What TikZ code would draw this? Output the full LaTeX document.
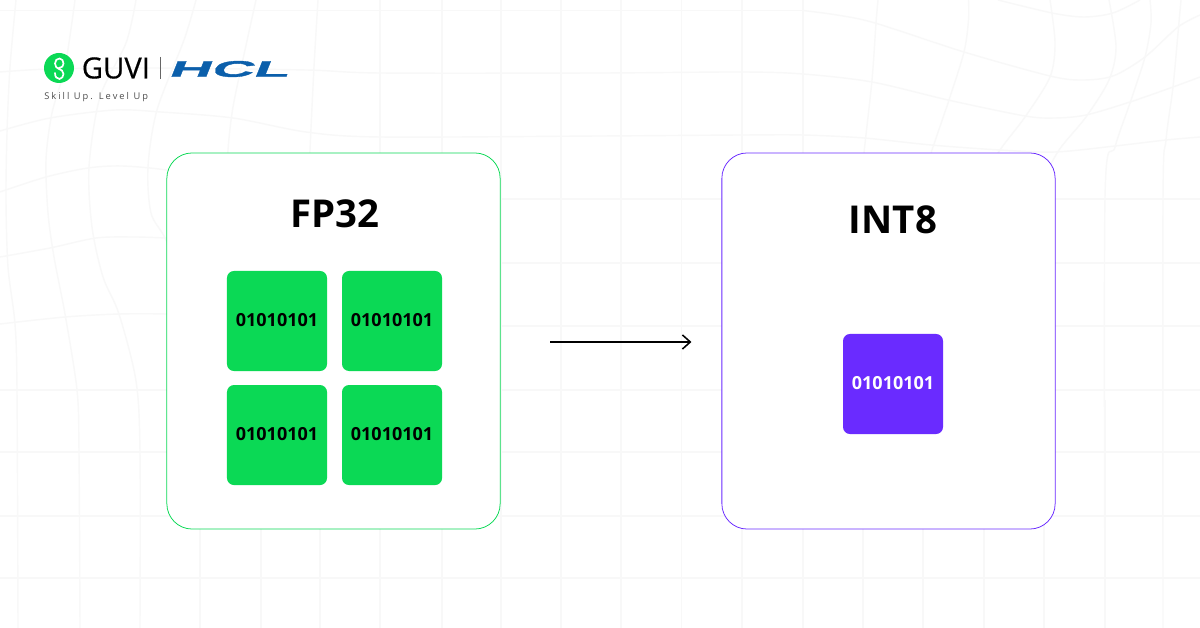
\documentclass[tikz,border=0pt]{standalone}
\usepackage{fontspec}
\setmainfont{Open Sans}
\newfontfamily\hclfont[FakeSlant=0.4,FakeStretch=2.6,FakeBold=1.5]{Liberation Sans Bold}
\usepackage{xcolor}
\usetikzlibrary{arrows.meta,positioning}
\definecolor{guvigreen}{HTML}{0BD955}
\definecolor{quantviolet}{HTML}{6A2BFF}
\definecolor{hclblue}{HTML}{0B5FAB}
\definecolor{gridgray}{HTML}{F8F8F8}
\newcommand{\bitword}{\raisebox{1pt}{01010101}}
\tikzset{
	card/.style={draw,fill=white,rounded corners=18pt,line width=.55pt,minimum width=8.33cm,minimum height=9.4cm},
	bits/.style={rounded corners=5pt,minimum width=2.5cm,minimum height=2.5cm,inner sep=0pt,font=\fontsize{12.8}{14}\selectfont\bfseries},
	title/.style={inner sep=0pt,font=\fontsize{27.3}{30}\selectfont\bfseries},
	grid line/.style={gridgray,line width=1pt}
}

\begin{document}
\begin{tikzpicture}[x=.025cm,y=-.025cm,node distance=2.875cm,>={Straight Barb[length=5.6pt,width=10pt]}]
	\useasboundingbox (0,0) rectangle (1200,628);
	\fill[white] (0,0) rectangle (1200,628);
	
	% straight part of the background
	\foreach \gy in {390,452,516,578}
		\draw[grid line] (0,\gy) -- (1200,\gy);
	\foreach \gy in {199,263,326}
		\draw[grid line] (501,\gy) -- (1200,\gy);
	\draw[grid line] (0,10.5) -- (803,10.5);
	\foreach \gx in {380,442,501,561,621,681.5,742,803}
		\draw[grid line] (\gx,0) -- (\gx,628);
	\foreach \gx in {200,261,320,863,923,984,1044,1105}
		\draw[grid line] (\gx,400) -- (\gx,628);
	
	% wavy part of the background
	\draw[grid line] plot[smooth] coordinates {(0,72) (50,69) (150,68) (306,70) (380,73) (600,73) (742,72) (803,74) (872,82) (948,100) (1025,116) (1055,118) (1086,115) (1130,102) (1173,87) (1200,77)};
	\draw[grid line] plot[smooth] coordinates {(0,131) (50,118) (115,110) (161,112) (233,118) (306,132) (380,137) (600,136) (742,135) (803,135) (864,138) (931,145) (1000,150) (1055,152) (1115,146) (1166,140) (1200,137)};
	\draw[grid line] plot[smooth] coordinates {(0,192) (46,177) (88,168) (122,166) (166,170) (210,180)};
	\draw[grid line] plot[smooth] coordinates {(0,257) (50,248) (96,238) (134,237) (166,238) (210,240)};
	\draw[grid line] plot[smooth] coordinates {(0,324) (65,317) (119,314) (166,314) (210,316)};
	\draw[grid line] plot[smooth] coordinates {(803,10.5) (837,15) (875,23) (964,52) (1050,76) (1082,80) (1113,76) (1145,57) (1178,27) (1200,15)};
	\draw[grid line] plot[smooth] coordinates {(998,0) (1052,13) (1084,17) (1113,13) (1140,0)};
	
	\draw[grid line] plot[smooth] coordinates {(16,0) (10,67) (7,133) (6,200) (8,267) (15,324) (17,390) (18,628)};
	\draw[grid line] plot[smooth] coordinates {(75,0) (65,67) (52,113) (46,160) (48,213) (54,257) (65,314) (77,390) (79,452) (80,628)};
	\draw[grid line] plot[smooth] coordinates {(136,0) (126,43) (100,97) (89,167) (92,227) (103,277) (119,314) (136,381) (140,452) (140,628)};
	\draw[grid line] plot[smooth] coordinates {(196,0) (184,40) (157,110) (148,167) (151,213) (166,240) (190,300)};
	\draw[grid line] plot[smooth] coordinates {(256,0) (245,50) (233,107) (228,150) (226,200)};
	\draw[grid line] plot[smooth] coordinates {(318,0) (314,67) (310,150) (308,200)};
	\draw[grid line] plot[smooth] coordinates {(878,0) (876,23) (872,80) (864,153) (860,200)};
	\draw[grid line] plot[smooth] coordinates {(968.5,0) (968.5,20) (964,52) (949,100) (931,153) (920,190)};
	\draw[grid line] plot[smooth] coordinates {(1050,0) (1055,43) (1050,77) (1025,117) (1000,150) (980,185)};
	\draw[grid line] plot[smooth] coordinates {(1109,0) (1116,47) (1109,80) (1086,117) (1059,150) (1040,185)};
	\draw[grid line] plot[smooth] coordinates {(1150,0) (1151,23) (1145,57) (1130,103) (1115,147) (1105,197) (1105,628)};
	\draw[grid line] plot[smooth] coordinates {(1181,0) (1178,33) (1173,87) (1166,140) (1163,200) (1163,628)};
	
	% logo
	\fill[guvigreen] (59,68) circle (15);
	\draw[white,line width=1.2pt,line cap=round] (55,73) ..controls (55,77) and (57,79) .. (59.5,79) ..controls (62,79) and (63.5,76) .. (63.5,74) ..controls (63.5,71) and (61,69.5) .. (59,69) ..controls (57,68.5) and (55,66.5) .. (55,63.5) ..controls (55,60.5) and (57,58.5) .. (59.5,58.5) ..controls (62,58.5) and (63.5,61) .. (63.5,63.5) ..controls (63.5,66) and (62,68) .. (59,68);
	\node[inner sep=0pt,anchor=west,font=\fontsize{20.8}{22}\selectfont\addfontfeature{FakeBold=.4}] (guvi) at (81.5,68) {GUVI};
	\coordinate (sepT) at (160,57);
	\coordinate (sepB) at (160,79);
	\draw[black!60,line width=.5pt] (sepT) -- (sepB);
	\node[inner sep=0pt,anchor=west,text=hclblue,font=\fontsize{16}{18}\selectfont\hclfont] (hcl) at (167.5,69) {HCL};
	\node[inner sep=0pt,anchor=west,text=black!70,font=\fontsize{6.6}{8}\selectfont\addfontfeature{LetterSpace=22}] (tag) at (44,97) {Skill Up. Level Up};
	
	% the two cards
	\node[card,draw=guvigreen] (fpbox) at (333.5,341) {};
	\node[card,draw=quantviolet] (intbox) at (888.5,341) {};
	
	\node[title] (fptitle) at (334.5,213.5) {FP32};
	\node[title] (inttitle) at (893,219.5) {INT8};
	
	\node[bits,fill=guvigreen] (B1) at (277,321) {\bitword};
	\node[bits,fill=guvigreen] (B2) [right of=B1] {\bitword};
	\node[bits,fill=guvigreen] (B3) [below of=B1, yshift=.7pt] {\bitword};
	\node[bits,fill=guvigreen] (B4) [below of=B2, yshift=.7pt] {\bitword};
	\node[bits,fill=quantviolet,text=white] (B5) at (893,384) {\bitword};
	
	\draw[->,line width=1.1pt,shorten <=1.24cm,shorten >=.75cm] ([yshift=-.7pt]fpbox.east) -- ([yshift=-.7pt]intbox.west);
\end{tikzpicture}
\end{document}
